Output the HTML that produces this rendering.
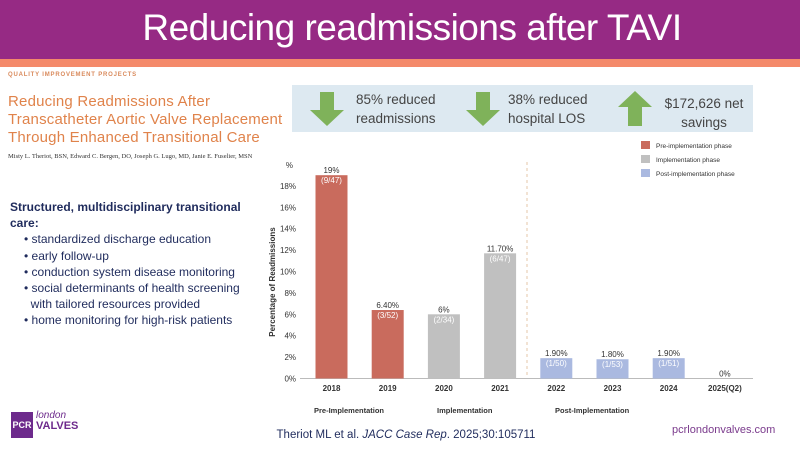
<!DOCTYPE html>
<html><head><meta charset="utf-8"><style>
body{margin:0;width:800px;height:450px;overflow:hidden;background:#fff;font-family:"Liberation Sans",sans-serif;position:relative}
.abs{position:absolute}
</style></head><body>
<div class="abs" style="left:0;top:0;width:800px;height:59px;background:#962a84"></div>
<div class="abs" style="left:0;top:59px;width:800px;height:8px;background:#f4896a"></div>
<div class="abs" style="left:12px;top:7px;width:800px;text-align:center;color:#fff;font-size:37px;font-family:'Liberation Sans',sans-serif;letter-spacing:-0.5px">Reducing readmissions after TAVI</div>
<div class="abs" style="left:8px;top:72px;font-size:6px;letter-spacing:0.8px;color:#d98a5c;font-weight:bold">QUALITY IMPROVEMENT PROJECTS</div>
<div class="abs" style="left:8px;top:93px;font-size:15px;line-height:18px;color:#e0834b;font-weight:normal;letter-spacing:0.2px">Reducing Readmissions After<br>Transcatheter Aortic Valve Replacement<br>Through Enhanced Transitional Care</div>
<div class="abs" style="left:8px;top:153px;font-size:6.5px;font-family:'Liberation Serif',serif;color:#333">Misty L. Theriot, BSN, Edward C. Bergen, DO, Joseph G. Lugo, MD, Janie E. Fuselier, MSN</div>
<div class="abs" style="left:292px;top:85px;width:461px;height:47px;background:#dde9f1"></div>
<svg class="abs" style="left:0;top:0" width="800" height="450">
<g><polygon points="320,92 334,92 334,110 344,110 327,126 310,110 320,110" fill="#7fb25a"/></g>
<g><polygon points="476,92 490,92 490,110 500,110 483,126 466,110 476,110" fill="#7fb25a"/></g>
<g><polygon points="628,126 642,126 642,107 652,107 635,91 618,107 628,107" fill="#7fb25a"/></g>
<text x="356" y="104" font-size="13.5" fill="#444">85% reduced</text>
<text x="356" y="123" font-size="13.5" fill="#444">readmissions</text>
<text x="508" y="104" font-size="13.5" fill="#444">38% reduced</text>
<text x="508" y="123" font-size="13.5" fill="#444">hospital LOS</text>
<text x="704" y="108" font-size="13.5" fill="#444" text-anchor="middle">$172,626 net</text>
<text x="704" y="127" font-size="13.5" fill="#444" text-anchor="middle">savings</text>
<g id="chart"></g>
</svg>
<div class="abs" style="left:10px;top:199px;font-size:12px;line-height:16.2px;color:#1f2b5c;font-family:'Liberation Sans',sans-serif">
<div style="font-weight:bold">Structured, multidisciplinary transitional<br>care:</div>
<div style="padding-left:14px">• standardized discharge education</div>
<div style="padding-left:14px">• early follow-up</div>
<div style="padding-left:14px">• conduction system disease monitoring</div>
<div style="padding-left:14px">• social determinants of health screening<br>&nbsp;&nbsp;with tailored resources provided</div>
<div style="padding-left:14px">• home monitoring for high-risk patients</div>
</div>
<div class="abs" style="left:11px;top:412px;width:22px;height:26px;background:#6d2a8c;color:#fff;font-size:9px;font-weight:bold;line-height:26px;text-align:center">PCR</div>
<div class="abs" style="left:36px;top:410px;color:#6d2a8c;font-size:10px;line-height:11px"><i>london</i><br><b style="font-size:11px">VALVES</b></div>
<div class="abs" style="left:0;width:800px;top:429px;text-align:center;font-size:11.5px;color:#1f2b5c;padding-left:12px;box-sizing:border-box">Theriot ML et al. <i>JACC Case Rep</i>. 2025;30:105711</div>
<div class="abs" style="left:672px;top:424px;font-size:11px;color:#7a3a8c">pcrlondonvalves.com</div>
<script>
const categories=["2018","2019","2020","2021","2022","2023","2024","2025(Q2)"];
const values=[19,6.4,6,11.7,1.9,1.8,1.9,0];
const valueLabels=["19%","6.40%","6%","11.70%","1.90%","1.80%","1.90%","0%"];
const countLabels=["(9/47)","(3/52)","(2/34)","(6/47)","(1/50)","(1/53)","(1/51)",""];
const phases=[0,0,1,1,2,2,2,2];
const phaseNames=["Pre-implementation phase","Implementation phase","Post-implementation phase"];
const phaseLabels=["Pre-Implementation","Implementation","Post-Implementation"];
const yTicks=[0,2,4,6,8,10,12,14,16,18];
const colors=["#c96b5d","#c0c0c0","#aab9e0"];
const NS="http://www.w3.org/2000/svg";
const g=document.getElementById('chart');
const y0=378.5,pxPer=10.7;
const y=v=>y0-v*pxPer;
const x=i=>331.5+i*56.2;
function mk(t,a,txt){const e=document.createElementNS(NS,t);for(const k in a)e.setAttribute(k,a[k]);if(txt!==undefined)e.textContent=txt;g.appendChild(e);return e;}
yTicks.forEach(t=>{const e=mk('text',{x:296,y:y(t)+3,'font-size':8,fill:'#333','text-anchor':'end'},t+'%');

});
let u=mk('text',{x:293,y:168,'font-size':8,fill:'#333','text-anchor':'end'},'%');


let yt=mk('text',{x:0,y:0,'font-size':8,fill:'#333','font-weight':'bold','text-anchor':'middle',transform:'translate(275,282) rotate(-90)'},'Percentage of Readmissions');


let ax=mk('line',{x1:300,x2:753,y1:y0,y2:y0,stroke:'#bbb','stroke-width':1});


let dl=mk('line',{x1:527,x2:527,y1:162,y2:378,stroke:'#e6c7a9','stroke-width':1,'stroke-dasharray':'3,3'});


categories.forEach((c,i)=>{
 const h=values[i]*pxPer;
 if(h>0){const b=mk('rect',{x:x(i)-16,y:y(values[i]),width:32,height:h,fill:colors[phases[i]]});
 
 }
 const vl=mk('text',{x:x(i),y:y(values[i])-2,'font-size':8,fill:'#333','text-anchor':'middle'},valueLabels[i]);
 
 
 if(countLabels[i]){const cl=mk('text',{x:x(i),y:y(values[i])+8,'font-size':8,fill:'#fff','text-anchor':'middle'},countLabels[i]);
 
 }
 const xl=mk('text',{x:x(i),y:391,'font-size':8,fill:'#333','font-weight':'bold','text-anchor':'middle'},c);
 
 
});
[314,437,555].forEach((px,i)=>{const e=mk('text',{x:px,y:413,'font-size':7.5,fill:'#333','font-weight':'bold'},phaseLabels[i]);

});
phaseNames.forEach((n,i)=>{
 const r=mk('rect',{x:641,y:141+i*14,width:9,height:8,fill:colors[i]});
 
 
 const t=mk('text',{x:656,y:148+i*14,'font-size':6.5,fill:'#333'},n);
 
 
});
</script>
</body></html>
